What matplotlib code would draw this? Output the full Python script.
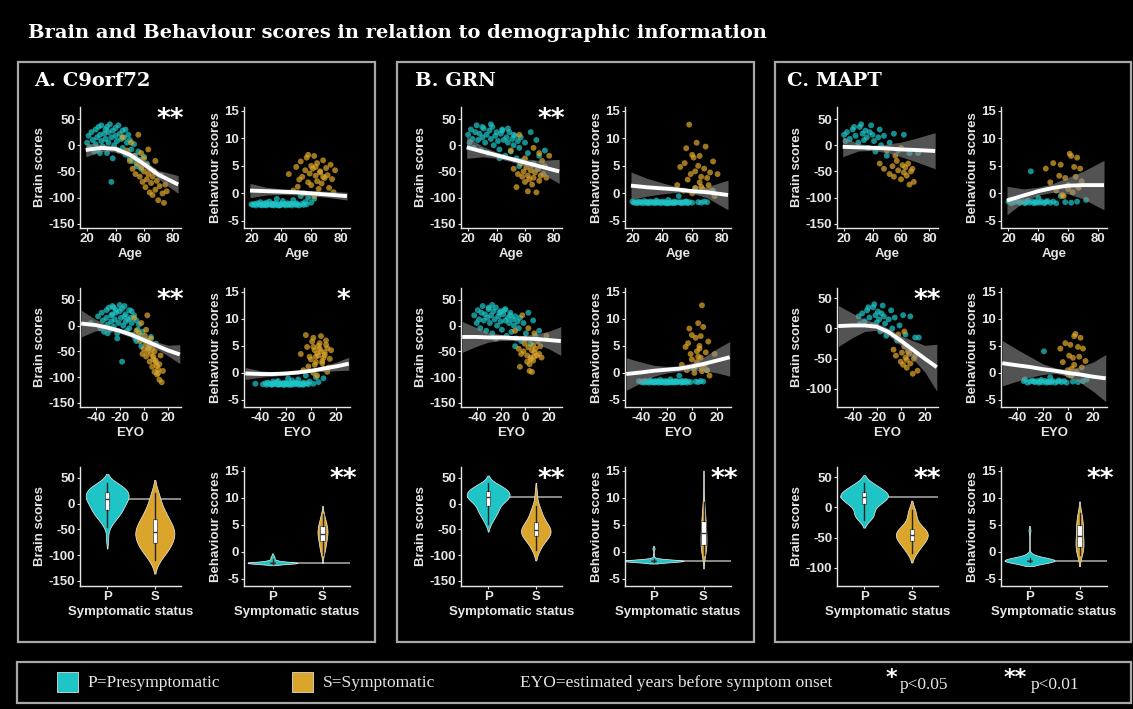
import numpy as np
import matplotlib
matplotlib.use('Agg')
import matplotlib.pyplot as plt
from matplotlib import mlab
from matplotlib.patches import Rectangle

# ---------------- data ----------------
AGE_TICKS = [20, 40, 60, 80]
EYO_TICKS = [-40, -20, 0, 20]
BRAIN_TICKS = [-150, -100, -50, 0, 50]
BRAIN_TICKS_C = [-100, -50, 0, 50]
BEHAV_TICKS = [-5, 0, 5, 10, 15]
STATUS_LABELS = ['P', 'S']

# A. C9orf72 - presymptomatic
A_P_age = [20, 21, 22, 23, 24, 25, 26, 26, 27, 28, 28, 29, 30, 30, 31, 32, 33, 33, 34, 35, 35, 36, 37, 37, 38, 39, 40, 40,
           41, 42, 43, 44, 45, 45, 46, 47, 48, 49, 50, 50, 51, 52, 53, 54, 55, 56, 57, 58, 60, 62, 34, 42, 29, 47, 38]
A_P_eyo = [-44, -38, -36, -35, -34, -33, -31, -30, -31, -29, -28, -27, -27, -26, -25, -26, -24, -23, -22, -21, -23, -20,
           -19, -18, -20, -17, -16, -18, -15, -14, -15, -13, -12, -10, -11, -9, -10, -8, -7, -6, -5, -6, -4, -3, -2, -1,
           2, 4, 6, 10, -25, -16, -30, -12, -22]
A_P_brain = [5, 18, -5, 25, 10, -12, 30, 2, 15, 35, -8, 20, 8, 38, -2, 22, 12, 30, -15, 5, 25, 40, 15, -70, 28, 0, 18, 33,
             8, -10, 22, 12, -5, 28, 15, -18, 5, 20, -25, 10, -8, -30, 2, -20, -40, -12, -28, -45, -22, -35, 35, 38, -15,
             30, -25]
A_P_behav = [-2.0, -2.1, -1.9, -2.2, -1.8, -2.0, -2.1, -1.6, -2.2, -2.0, -1.9, -2.1, -1.7, -2.2, -2.0, -1.5, -2.1, -2.0,
             -1.9, -2.2, -2.0, -1.8, -2.1, -1.0, -2.0, -2.2, -1.9, -2.1, -1.4, -2.0, -2.2, -1.8, -2.1, -2.0, -1.9, -2.2,
             -1.2, -2.0, -2.1, -1.8, -2.0, -2.2, -0.5, -1.9, -2.1, -1.6, -2.0, -0.8, -1.7, -1.0, -2.1, -2.0, -2.0, -1.9,
             -2.2]
# A. C9orf72 - symptomatic
A_S_age = [45, 48, 50, 51, 52, 53, 54, 55, 56, 57, 58, 59, 60, 60, 61, 62, 62, 63, 64, 64, 65, 66, 66, 67, 68, 69, 70, 71,
           72, 73, 74, 75, 76, 68, 58, 63]
A_S_eyo = [-8, -6, -3, -2, 0, 1, -1, 2, 3, 2, 4, 5, 6, 3, 7, 5, 8, 6, 9, 7, 10, 8, 11, 9, 12, 10, 13, 11, 14, 12, 15, 13,
           16, 4, -4, 2]
A_S_brain = [15, -10, -30, 5, -45, -20, -55, -35, 20, -60, -42, -70, -25, -50, -80, -38, -65, -55, -90, -45, -72, -60, -95,
             -50, -85, -68, -105, -78, -58, -92, -110, -75, -88, -30, -15, -8]
A_S_behav = [3.5, 0.5, 4.8, 1.2, 2.5, 5.8, 3.0, 0.0, 4.2, 6.5, 2.0, 3.6, 5.0, 1.5, 4.5, -0.5, 6.8, 3.2, 2.2, 5.5, 0.8, 4.0,
             3.8, 1.8, 6.0, 2.8, 4.6, 3.3, 1.0, 5.2, 2.6, 0.2, 4.2, 3.0, 7.0, 4.8]

# B. GRN - presymptomatic
B_P_age = [20, 21, 22, 23, 24, 25, 26, 27, 28, 29, 30, 31, 32, 33, 34, 35, 36, 37, 38, 39, 40, 41, 42, 43, 44, 45, 46, 47,
           48, 49, 50, 51, 52, 53, 54, 55, 56, 57, 58, 60, 62, 64, 66, 68, 70, 74, 30, 36, 44, 48, 52, 42, 56]
B_P_eyo = [-42, -40, -39, -38, -37, -36, -35, -34, -33, -32, -31, -30, -29, -28, -27, -26, -25, -24, -23, -22, -21, -20,
           -19, -18, -17, -16, -15, -14, -13, -12, -11, -10, -9, -8, -7, -6, -5, -4, -3, -1, 1, 3, 5, 7, 9, 12, -30, -27,
           -20, -16, -12, -24, -8]
B_P_brain = [20, 5, 30, 12, -5, 25, 38, 10, 22, -10, 15, 32, 5, 20, -15, 28, 12, 35, 0, 18, 25, 8, -8, 22, 30, 10, -20,
             15, 5, 25, -12, 12, 0, 18, -25, 8, -5, 15, -30, 5, -15, 25, -35, 10, -20, -10, 35, 40, 28, 32, 20, -25, -40]
B_P_behav = [-1.5, -1.7, -1.6, -1.8, -1.5, -1.7, -1.6, -1.8, -1.4, -1.7, -1.6, -1.8, -1.5, -1.7, -1.6, -1.8, -1.3, -1.7,
             -1.6, -1.8, -1.5, -1.7, -1.6, -1.8, -1.2, -1.7, -1.6, -1.8, -1.5, -1.7, -1.6, -0.5, -1.7, -1.8, -1.6, -1.7,
             -1.5, -1.8, -1.6, -1.7, 0.8, -1.6, -1.7, -1.5, -1.6, 0.5, -1.7, -1.6, -1.8, -1.7, -1.6, -1.7, -1.5]
# B. GRN - symptomatic
B_S_age = [50, 52, 54, 55, 56, 57, 58, 59, 60, 61, 62, 62, 63, 64, 65, 65, 66, 67, 68, 69, 70, 71, 72, 73, 74, 75, 77, 60,
           66, 70]
B_S_eyo = [-8, -5, -4, -3, -2, 0, 8, -1, 2, 3, 4, 2, 5, 6, 4, 7, 5, 8, 6, 9, 7, 10, 11, 12, 13, 14, 18, 0, 3, 8]
B_S_brain = [-10, -45, -80, -55, 20, -35, -60, -50, -70, -42, -88, -58, -65, -48, -75, -38, -62, -52, -90, -45, -68, -58,
             -30, -55, -40, -62, -20, -25, -5, -15]
B_S_behav = [1.5, 4.8, 0.5, 5.5, 8.2, 2.5, 12.5, 3.5, 0.0, 6.5, 4.0, 1.0, 9.2, 5.0, 2.0, 6.8, 3.0, 0.8, 4.5, 8.5, 2.8, 1.5,
             3.8, 0.5, 5.8, -0.5, 3.5, 7.0, 1.2, 0.3]

# C. MAPT - presymptomatic
C_P_age = [20, 21, 22, 24, 26, 28, 30, 31, 32, 33, 34, 35, 36, 37, 38, 40, 41, 42, 44, 45, 46, 48, 50, 52, 55, 58, 62, 66,
           27, 39, 72]
C_P_eyo = [-35, -34, -32, -30, -28, -26, -24, -23, -22, -21, -20, -19, -18, -17, -16, -14, -13, -12, -10, -8, -7, -5, -3,
           -1, 2, 4, 8, 12, -27, -15, 15]
C_P_brain = [20, 8, 25, 12, 30, 18, 5, 35, 40, 22, 10, 28, 15, -5, 25, 20, 8, -12, 15, 30, 0, 18, -20, 5, 22, -10, 20,
             -15, 35, 38, -15]
C_P_behav = [-1.5, -1.2, -1.8, -1.6, -1.4, -1.7, -1.5, -1.8, -1.6, -1.3, -1.7, 4.0, -1.5, -1.8, -1.6, -0.8, -1.7, -1.5,
             -1.8, -1.6, -1.4, -1.7, -1.5, -1.8, -0.5, -1.6, -1.7, -1.5, -1.6, -1.7, -1.2]
# C. MAPT - symptomatic
C_S_age = [45, 48, 50, 52, 54, 55, 57, 58, 60, 61, 62, 63, 64, 65, 66, 67, 68, 69, 56, 60]
C_S_eyo = [-6, -4, -2, 0, 1, 2, 3, 4, 5, 6, 5, 7, 8, 9, 10, 11, 12, 14, 0, 3]
C_S_brain = [-35, -45, -10, -55, -40, -60, -30, -48, -65, -38, -52, -42, -58, -35, -75, -50, -45, -70, -20, -5]
C_S_behav = [4.5, 2.0, 5.5, 0.5, 3.2, 5.2, -0.5, 2.8, 1.5, 7.2, 6.8, 0.2, 4.8, 3.0, 6.5, 1.0, 4.5, 2.2, -0.3, 0.8]

# smooth fits (value, lower, upper)
AGE_GRID = [19, 30, 40, 50, 60, 70, 84]
EYO_GRID = [-52, -40, -30, -20, -10, 0, 10, 20, 30]

A_brain_age_fit = [-9, -5, -7, -18, -36, -56, -75]
A_brain_age_lo = [-22, -12, -13, -24, -43, -64, -92]
A_brain_age_hi = [4, 2, -1, -12, -29, -48, -58]
A_behav_age_fit = [0.5, 0.4, 0.3, 0.2, 0.0, -0.2, -0.5]
A_behav_age_lo = [-0.8, -0.3, -0.2, -0.3, -0.5, -0.7, -1.2]
A_behav_age_hi = [1.8, 1.1, 0.8, 0.7, 0.5, 0.4, 0.2]
A_brain_eyo_fit = [4, 1, -4, -10, -18, -28, -38, -48, -56]
A_brain_eyo_lo = [-22, -10, -10, -15, -23, -34, -45, -58, -74]
A_brain_eyo_hi = [30, 12, 2, -5, -13, -22, -31, -38, -37]
A_behav_eyo_fit = [-0.1, -0.2, -0.2, -0.1, 0.1, 0.4, 0.8, 1.2, 1.7]
A_behav_eyo_lo = [-1.2, -0.8, -0.6, -0.4, -0.2, 0.1, 0.3, 0.4, 0.5]
A_behav_eyo_hi = [1.0, 0.4, 0.2, 0.2, 0.4, 0.7, 1.3, 2.0, 2.9]

B_brain_age_fit = [-4, -12, -19, -26, -33, -40, -50]
B_brain_age_lo = [-25, -22, -25, -31, -40, -51, -73]
B_brain_age_hi = [17, -2, -13, -21, -26, -29, -27]
B_behav_age_fit = [1.4, 1.1, 0.9, 0.7, 0.4, 0.2, -0.3]
B_behav_age_lo = [-1.1, -0.5, -0.1, 0.2, 0.0, -0.8, -3.0]
B_behav_age_hi = [3.9, 2.7, 1.9, 1.2, 0.8, 1.2, 2.4]
B_brain_eyo_fit = [-22, -22, -23, -23, -24, -25, -26, -28, -30]
B_brain_eyo_lo = [-52, -40, -32, -29, -29, -31, -36, -45, -58]
B_brain_eyo_hi = [8, -4, -14, -17, -19, -19, -16, -11, -2]
B_behav_eyo_fit = [-0.2, 0.1, 0.4, 0.6, 0.8, 1.2, 1.7, 2.3, 2.9]
B_behav_eyo_lo = [-3.2, -1.8, -0.6, 0.0, 0.3, 0.5, 0.4, 0.0, -0.6]
B_behav_eyo_hi = [2.8, 2.0, 1.4, 1.2, 1.3, 1.9, 3.0, 4.5, 5.8]

C_brain_age_fit = [-3, -4, -5, -6, -8, -9, -11]
C_brain_age_lo = [-22, -11, -10, -14, -22, -31, -45]
C_brain_age_hi = [16, 3, 0, 2, 6, 13, 24]
C_behav_age_fit = [-1.3, -0.4, 0.4, 1.0, 1.4, 1.5, 1.5]
C_behav_age_lo = [-3.9, -1.6, -0.3, 0.2, -0.1, -1.0, -3.0]
C_behav_age_hi = [1.3, 0.8, 1.1, 1.8, 2.9, 4.0, 6.0]
C_brain_eyo_fit = [4, 5, 5, 3, -6, -20, -35, -50, -64]
C_brain_eyo_lo = [-30, -15, -5, -3, -12, -28, -50, -72, -104]
C_brain_eyo_hi = [38, 25, 15, 9, 0, -12, -20, -28, -26]
C_behav_eyo_fit = [1.8, 1.4, 1.1, 0.7, 0.4, 0.0, -0.3, -0.7, -1.0]
C_behav_eyo_lo = [-2.4, -1.5, -0.8, -0.3, -0.1, -0.6, -1.8, -3.4, -5.3]
C_behav_eyo_hi = [6.0, 4.3, 3.0, 1.7, 0.9, 0.6, 1.2, 2.0, 3.4]

PANEL_TITLES = ['A. C9orf72', 'B. GRN', 'C. MAPT']
# significance stars: rows x cols per panel
A_stars = [['**', ''], ['**', '*'], ['', '**']]
B_stars = [['**', ''], ['', ''], ['**', '**']]
C_stars = [['', ''], ['**', ''], ['**', '**']]

# ---------------- style ----------------
W, H = 1133, 709
CYAN = '#1fc4c6'
GOLD = '#dba52c'
FG = '#e6e6e6'
BAND = '#8c8c8c'

plt.rcParams['axes.unicode_minus'] = False
plt.rcParams['font.family'] = ['Liberation Sans', 'DejaVu Sans']

fig = plt.figure(figsize=(W / 100, H / 100), dpi=100, facecolor='black')


def frect(x0, y0, x1, y1):
    return [x0 / W, 1 - y1 / H, (x1 - x0) / W, (y1 - y0) / H]


def ftext(x, y, s, **kw):
    fig.text(x / W, 1 - y / H, s, **kw)


def box(x0, y0, x1, y1):
    fig.add_artist(Rectangle((x0 / W, 1 - y1 / H), (x1 - x0) / W, (y1 - y0) / H,
                             transform=fig.transFigure, fill=False, ec='#a8a8a8', lw=1.6))


def style(ax, yticks, ylim):
    ax.set_facecolor('black')
    for s in ['top', 'right']:
        ax.spines[s].set_visible(False)
    for s in ['left', 'bottom']:
        ax.spines[s].set_color(FG)
        ax.spines[s].set_linewidth(1.0)
    ax.tick_params(colors=FG, labelsize=9.5, length=2, width=0.8, pad=1.5)
    ax.set_yticks(yticks)
    ax.set_ylim(*ylim)
    for lbl in ax.get_xticklabels() + ax.get_yticklabels():
        lbl.set_fontweight('bold')


def label(ax, xl, yl):
    ax.set_xlabel(xl, color=FG, fontsize=9.5, fontweight='bold', labelpad=2)
    ax.set_ylabel(yl, color=FG, fontsize=9.5, fontweight='bold', labelpad=2)


def scatter_fit(ax, Px, Py, Sx, Sy, gx, fit, lo, hi):
    ax.scatter(Px, Py, s=18, color=CYAN, alpha=0.72, edgecolors='none', zorder=2)
    ax.scatter(Sx, Sy, s=18, color=GOLD, alpha=0.72, edgecolors='none', zorder=2)
    ax.fill_between(gx, lo, hi, color=BAND, alpha=0.6, lw=0, zorder=3)
    ax.plot(gx, fit, color='white', lw=2.8, zorder=4, solid_capstyle='butt', solid_joinstyle='round')


def vstats(d, cut=1.6):
    d = np.asarray(d, float)
    kde = mlab.GaussianKDE(d)
    bw = float(np.sqrt(kde.covariance[0, 0]))
    coords = np.linspace(d.min() - cut * bw, d.max() + cut * bw, 240)
    return dict(coords=coords, vals=kde.evaluate(coords), mean=d.mean(), median=np.median(d),
                min=d.min(), max=d.max(), quantiles=[])


def violins(ax, P, S, widths):
    ax.set_xlim(0.43, 2.55)
    ref = float(np.median(P))
    ax.hlines(ref, 1 - widths[0] / 2, 2.55, color='#a0a0a0', lw=1.2, zorder=1)
    parts = ax.violin([vstats(P), vstats(S)], positions=[1, 2], widths=list(widths), showextrema=False)
    for body, c in zip(parts['bodies'], [CYAN, GOLD]):
        body.set_facecolor(c)
        body.set_edgecolor('#f0f0f0')
        body.set_linewidth(0.5)
        body.set_alpha(1)
        body.set_zorder(2)
    bp = ax.boxplot([P, S], positions=[1, 2], widths=0.09, patch_artist=True, showfliers=False,
                    showcaps=False, manage_ticks=False,
                    boxprops=dict(facecolor='white', edgecolor='#555555', lw=0.6),
                    medianprops=dict(color='#333333', lw=1.0),
                    whiskerprops=dict(color='#222222', lw=1.0))
    for art in bp['boxes'] + bp['medians'] + bp['whiskers']:
        art.set_zorder(3)
    ax.set_xticks([1, 2])
    ax.set_xticklabels(STATUS_LABELS)


panel_dx = [0, 381, 757]
col_x = [(80, 181), (244, 350)]
row_y = [(107, 228), (288, 407), (467, 586)]

genes = [
    dict(P=(A_P_age, A_P_eyo, A_P_brain, A_P_behav), S=(A_S_age, A_S_eyo, A_S_brain, A_S_behav),
         fits=[[(A_brain_age_fit, A_brain_age_lo, A_brain_age_hi), (A_behav_age_fit, A_behav_age_lo, A_behav_age_hi)],
               [(A_brain_eyo_fit, A_brain_eyo_lo, A_brain_eyo_hi), (A_behav_eyo_fit, A_behav_eyo_lo, A_behav_eyo_hi)]],
         stars=A_stars, btick=[BRAIN_TICKS, BRAIN_TICKS, BRAIN_TICKS],
         blim=[(-158, 73), (-158, 73), (-160, 71)], vw=[(0.9, 0.82), (1.0, 0.2)]),
    dict(P=(B_P_age, B_P_eyo, B_P_brain, B_P_behav), S=(B_S_age, B_S_eyo, B_S_brain, B_S_behav),
         fits=[[(B_brain_age_fit, B_brain_age_lo, B_brain_age_hi), (B_behav_age_fit, B_behav_age_lo, B_behav_age_hi)],
               [(B_brain_eyo_fit, B_brain_eyo_lo, B_brain_eyo_hi), (B_behav_eyo_fit, B_behav_eyo_lo, B_behav_eyo_hi)]],
         stars=B_stars, btick=[BRAIN_TICKS, BRAIN_TICKS, BRAIN_TICKS],
         blim=[(-158, 73), (-158, 73), (-160, 71)], vw=[(0.9, 0.62), (1.2, 0.12)]),
    dict(P=(C_P_age, C_P_eyo, C_P_brain, C_P_behav), S=(C_S_age, C_S_eyo, C_S_brain, C_S_behav),
         fits=[[(C_brain_age_fit, C_brain_age_lo, C_brain_age_hi), (C_behav_age_fit, C_behav_age_lo, C_behav_age_hi)],
               [(C_brain_eyo_fit, C_brain_eyo_lo, C_brain_eyo_hi), (C_behav_eyo_fit, C_behav_eyo_lo, C_behav_eyo_hi)]],
         stars=C_stars, btick=[BRAIN_TICKS, BRAIN_TICKS_C, BRAIN_TICKS_C],
         blim=[(-158, 73), (-130, 67), (-130, 67)], vw=[(1.0, 0.67), (1.0, 0.16)]),
]

BEHAV_LIM = (-6.3, 15.7)

for gi, g in enumerate(genes):
    dx = panel_dx[gi]
    Pa, Pe, Pb, Pv = g['P']
    Sa, Se, Sb, Sv = g['S']
    for r in range(3):
        for c in range(2):
            x0, x1 = col_x[c]
            y0, y1 = row_y[r]
            ax = fig.add_axes(frect(x0 + dx, y0, x1 + dx, y1))
            yP = Pb if c == 0 else Pv
            yS = Sb if c == 0 else Sv
            yl = 'Brain scores' if c == 0 else 'Behaviour scores'
            if c == 0:
                yt, ylim = g['btick'][r], g['blim'][r]
            else:
                yt, ylim = BEHAV_TICKS, BEHAV_LIM
            if r < 2:
                xP = Pa if r == 0 else Pe
                xS = Sa if r == 0 else Se
                grid = AGE_GRID if r == 0 else EYO_GRID
                fit, lo, hi = g['fits'][r][c]
                scatter_fit(ax, xP, yP, xS, yS, grid, fit, lo, hi)
                if r == 0:
                    ax.set_xlim(15, 86)
                    ax.set_xticks(AGE_TICKS)
                    xl = 'Age'
                else:
                    ax.set_xlim(-53, 31)
                    ax.set_xticks(EYO_TICKS)
                    xl = 'EYO'
            else:
                violins(ax, yP, yS, g['vw'][c])
                xl = 'Symptomatic status'
            style(ax, yt, ylim)
            label(ax, xl, yl)
            st = g['stars'][r][c]
            if st:
                ax.text(0.89 if c == 0 else 0.94, 1.0, st, transform=ax.transAxes, ha='center', va='top',
                        color='white', fontsize=19, fontweight='bold', family='DejaVu Sans')

# boxes and titles
box(18, 62, 375, 642)
box(397, 62, 754, 642)
box(775, 62, 1131, 642)
box(17, 662, 1131, 703)

ftext(28, 33, 'Brain and Behaviour scores in relation to demographic information', color='white',
      fontsize=14, fontweight='bold', family=['DejaVu Serif'], va='center', ha='left')
for gi, t in enumerate(PANEL_TITLES):
    ftext([34, 415, 787][gi], 81, t, color='white', fontsize=14, fontweight='bold',
          family=['DejaVu Serif'], va='center', ha='left')

# legend
for xs, c in [(57, CYAN), (292, GOLD)]:
    fig.add_artist(Rectangle((xs / W, 1 - 692 / H), 21 / W, 20 / H, transform=fig.transFigure,
                             fc=c, ec='#dddddd', lw=0.6))
LEG_FONT = ['Liberation Serif', 'DejaVu Serif']
ftext(87, 683, 'P=Presymptomatic', color=FG, fontsize=12.5, family=LEG_FONT, va='center')
ftext(323, 683, 'S=Symptomatic', color=FG, fontsize=12.5, family=LEG_FONT, va='center')
ftext(520, 683, 'EYO=estimated years before symptom onset', color=FG, fontsize=12.5, family=LEG_FONT, va='center')
ftext(886, 678, '*', color='white', fontsize=16, fontweight='bold', family='DejaVu Sans', va='center')
ftext(900, 685, 'p<0.05', color=FG, fontsize=12.5, family=LEG_FONT, va='center')
ftext(1004, 678, '**', color='white', fontsize=16, fontweight='bold', family='DejaVu Sans', va='center')
ftext(1031, 685, 'p<0.01', color=FG, fontsize=12.5, family=LEG_FONT, va='center')

fig.savefig('out.png', dpi=100, facecolor='black')
